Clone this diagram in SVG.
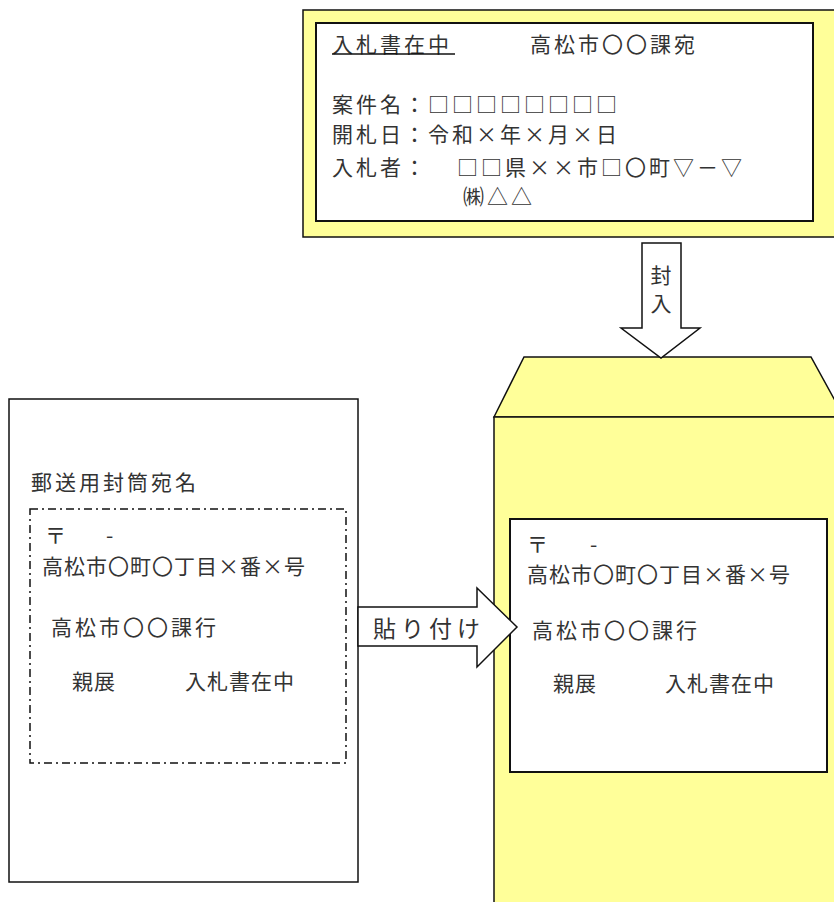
<svg xmlns="http://www.w3.org/2000/svg" width="834" height="902" viewBox="0 0 834 902">
<style>
text{font-family:"Noto Sans CJK JP","Noto Sans",sans-serif;fill:#333;}
.t{font-size:21px;letter-spacing:3px;}
.l{font-size:21px;letter-spacing:1px;}
.y{fill:#FFFF99;stroke:#111;stroke-width:1.5;}
.w{fill:#fff;stroke:#111;stroke-width:2;}
.arr{fill:#fff;stroke:#111;stroke-width:1.5;stroke-linejoin:miter;}
</style>
<rect width="834" height="902" fill="#fff"/>
<g id="bid-document">
<rect class="y" x="303" y="10" width="540" height="227"/>
<rect class="w" x="316" y="23" width="497" height="198"/>
<text class="t" x="332" y="52">入札書在中</text>
<line x1="332" y1="54" x2="455" y2="54" stroke="#111" stroke-width="1.5"/>
<text class="t" x="530" y="52">高松市〇〇課宛</text>
<text class="t" x="332" y="112">案件名：□□□□□□□□</text>
<text class="t" x="332" y="142">開札日：令和×年×月×日</text>
<text class="t" x="332" y="175">入札者：</text>
<text class="t" x="457" y="175">□□県××市□〇町▽－▽</text>
<text class="t" x="463" y="204">㈱△△</text>
</g>
<g id="mailing-label">
<rect x="9" y="399" width="349" height="483" fill="#fff" stroke="#111" stroke-width="1.5"/>
<text class="t" x="31" y="490">郵送用封筒宛名</text>
<rect x="30" y="509" width="316" height="254" fill="none" stroke="#111" stroke-width="1.5" stroke-dasharray="8 4 2 4"/>
<text class="l" x="45" y="543">〒</text>
<text class="l" x="106" y="543">-</text>
<text class="l" x="42" y="574">高松市〇町〇丁目×番×号</text>
<text class="t" x="51" y="635">高松市〇〇課行</text>
<text class="l" x="72" y="689">親展</text>
<text class="l" x="185" y="689">入札書在中</text>
</g>
<g id="envelope">
<polygon class="y" points="494,417 524,357 811,357 844,417"/>
<rect class="y" x="494" y="417" width="350" height="495"/>
<rect class="w" x="510" y="519" width="317" height="253"/>
<text class="l" x="527" y="552">〒</text>
<text class="l" x="590" y="552">-</text>
<text class="l" x="527" y="582">高松市〇町〇丁目×番×号</text>
<text class="t" x="532" y="638">高松市〇〇課行</text>
<text class="l" x="553" y="691">親展</text>
<text class="l" x="665" y="691">入札書在中</text>
</g>
<g id="connectors">
<g id="arrow-enclose">
<polygon class="arr" points="642,243 681,243 681,328 700,328 661,358 621,328 642,328"/>
<text x="661" y="265" font-size="21" letter-spacing="7" style="writing-mode:vertical-rl">封入</text>
</g>
<g id="arrow-paste">
<polygon class="arr" points="358,607 477,607 477,588 517,627 477,667 477,646 358,646"/>
<text x="373" y="637" font-size="23" letter-spacing="5">貼り付け</text>
</g>
</g>
</svg>
